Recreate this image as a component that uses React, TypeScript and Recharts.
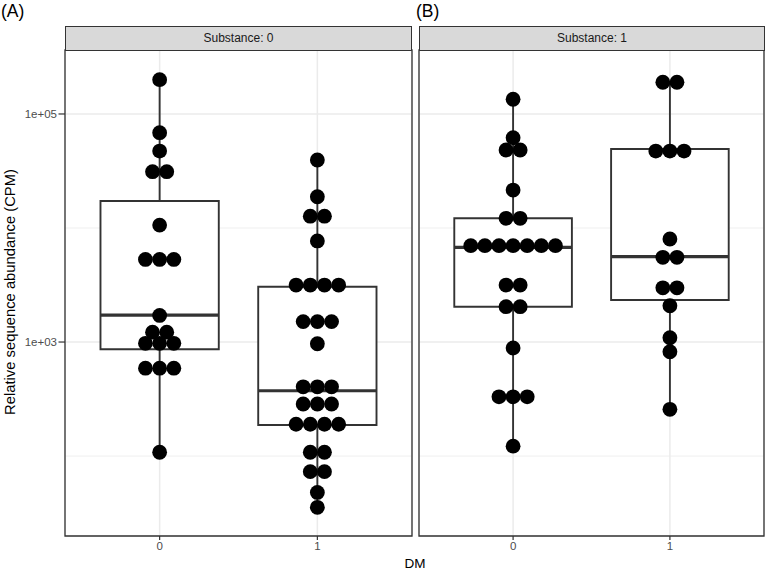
import React from 'react'
import {
  ComposedChart,
  Scatter,
  XAxis,
  YAxis,
  CartesianGrid,
  ReferenceArea,
  ReferenceLine,
} from 'recharts'

const dmLevels = [0, 1]
const majorTicks = [1e3, 1e5]
const gridTicks = [1e2, 1e3, 1e4, 1e5]
const yDomain: [number, number] = [19.9, 364000]
const panelTitles = ['Substance: 0', 'Substance: 1']
const panelTags = ['(A)', '(B)']

// dot-plot bins: bin centre (CPM) and number of stacked dots
const s0dm0Bins = [200000, 68500, 47300, 31200, 10600, 5300, 1710, 1220, 975, 590, 108]
const s0dm0Counts = [1, 1, 1, 2, 1, 3, 1, 2, 3, 3, 1]
const s0dm1Bins = [39500, 18800, 12700, 7700, 3160, 1510, 966, 405, 286, 190, 108, 73, 48, 35.5]
const s0dm1Counts = [1, 1, 2, 1, 4, 3, 1, 3, 3, 4, 2, 2, 1, 1]
const s1dm0Bins = [134600, 61900, 48300, 21500, 12160, 7000, 3160, 2040, 886, 331, 122]
const s1dm0Counts = [1, 1, 2, 1, 2, 7, 2, 2, 1, 3, 1]
const s1dm1Bins = [189800, 47300, 8010, 5530, 2990, 2080, 1090, 822, 257]
const s1dm1Counts = [2, 3, 1, 2, 2, 1, 1, 1, 1]

// boxplot stats: lower whisker, Q1, median, Q3, upper whisker
const s0dm0Box = [108, 863, 1725, 17250, 200000]
const s0dm1Box = [35.5, 187, 374, 3055, 39500]
const s1dm0Box = [122, 2040, 6770, 12160, 134600]
const s1dm1Box = [257, 2334, 5600, 49300, 189800]

const FONT = '"Liberation Sans", Arial, Helvetica, sans-serif'
const DOT_STEP = 0.09 // horizontal spacing of stacked dots, in x units
const BOX_HALF = 0.375

type Group = { dm: number; bins: number[]; counts: number[]; box: number[] }

function stackDots(g: Group) {
  const pts: { x: number; y: number }[] = []
  g.bins.forEach((v, i) => {
    const n = g.counts[i]
    for (let k = 0; k < n; k++) {
      pts.push({ x: g.dm + (k - (n - 1) / 2) * DOT_STEP, y: v })
    }
  })
  return pts
}

const fmtExp = (v: number) => {
  const e = Math.round(Math.log10(v))
  return `1e+${String(e).padStart(2, '0')}`
}

function YTick(props: any) {
  const { x, y, payload } = props
  if (!majorTicks.includes(payload.value)) return <g />
  return (
    <g>
      <line x1={x + 1.5} x2={x + 8} y1={y} y2={y} stroke="#333" strokeWidth={1.2} />
      <text x={x} y={y} dy="0.35em" textAnchor="end" fill="#4d4d4d" fontSize={11.5}>
        {fmtExp(payload.value)}
      </text>
    </g>
  )
}

const gridLine = (p: any) => {
  const v = gridTicks[p.index]
  const major = majorTicks.includes(v)
  return (
    <line
      key={`h-${p.index}`}
      x1={p.x1}
      y1={p.y1}
      x2={p.x2}
      y2={p.y2}
      stroke="#ebebeb"
      strokeWidth={major ? 1.5 : 0.8}
    />
  )
}

const dot = (p: any) => <circle cx={p.cx} cy={p.cy} r={7.4} fill="#000" />

interface PanelProps {
  left: number
  width: number
  mLeft: number
  mRight: number
  showY: boolean
  groups: Group[]
}

function Panel({ left, width, mLeft, mRight, showY, groups }: PanelProps) {
  return (
    <div style={{ position: 'absolute', left, top: 0 }}>
      <ComposedChart
        width={width}
        height={570}
        margin={{ top: 50, right: mRight, bottom: 14, left: mLeft }}
      >
        <CartesianGrid stroke="#ebebeb" strokeWidth={1.5} horizontal={gridLine} />
        <XAxis
          dataKey="x"
          type="number"
          domain={[-0.6, 1.6]}
          allowDataOverflow
          ticks={dmLevels}
          interval={0}
          axisLine={false}
          tickLine={{ stroke: '#333', strokeWidth: 1.2 }}
          tickSize={4}
          tickMargin={2}
          tick={{ fill: '#4d4d4d', fontSize: 11.5 }}
          height={20}
        />
        <YAxis
          dataKey="y"
          type="number"
          scale="log"
          domain={yDomain}
          allowDataOverflow
          ticks={gridTicks}
          interval={0}
          axisLine={false}
          tickLine={false}
          tickSize={5}
          tickMargin={3}
          tick={<YTick />}
          width={showY ? 65 : 0}
          hide={!showY}
        />
        {groups.map((g) => (
          <ReferenceLine
            key={`wu-${g.dm}`}
            segment={[{ x: g.dm, y: g.box[3] }, { x: g.dm, y: g.box[4] }]}
            stroke="#333"
            strokeWidth={1.9}
          />
        ))}
        {groups.map((g) => (
          <ReferenceLine
            key={`wl-${g.dm}`}
            segment={[{ x: g.dm, y: g.box[0] }, { x: g.dm, y: g.box[1] }]}
            stroke="#333"
            strokeWidth={1.9}
          />
        ))}
        {groups.map((g) => (
          <ReferenceArea
            key={`box-${g.dm}`}
            x1={g.dm - BOX_HALF}
            x2={g.dm + BOX_HALF}
            y1={g.box[1]}
            y2={g.box[3]}
            fill="#fff"
            fillOpacity={1}
            stroke="#333"
            strokeWidth={1.9}
          />
        ))}
        {groups.map((g) => (
          <ReferenceLine
            key={`med-${g.dm}`}
            segment={[
              { x: g.dm - BOX_HALF, y: g.box[2] },
              { x: g.dm + BOX_HALF, y: g.box[2] },
            ]}
            stroke="#333"
            strokeWidth={3.2}
          />
        ))}
        {groups.map((g) => (
          <Scatter
            key={`dots-${g.dm}`}
            data={stackDots(g)}
            shape={dot}
            isAnimationActive={false}
          />
        ))}
        <ReferenceArea
          x1={-0.6}
          x2={1.6}
          y1={yDomain[0]}
          y2={yDomain[1]}
          fill="none"
          fillOpacity={0}
          stroke="#333"
          strokeWidth={1.3}
        />
      </ComposedChart>
    </div>
  )
}

function Strip({ left, width, text }: { left: number; width: number; text: string }) {
  return (
    <div
      style={{
        position: 'absolute',
        left,
        top: 26,
        width: width - 2,
        height: 23,
        background: '#d9d9d9',
        border: '1px solid #333',
        color: '#1a1a1a',
        fontSize: 12,
        lineHeight: '23px',
        textAlign: 'center',
      }}
    >
      {text}
    </div>
  )
}

export default function App() {
  const groupsA: Group[] = [
    { dm: 0, bins: s0dm0Bins, counts: s0dm0Counts, box: s0dm0Box },
    { dm: 1, bins: s0dm1Bins, counts: s0dm1Counts, box: s0dm1Box },
  ]
  const groupsB: Group[] = [
    { dm: 0, bins: s1dm0Bins, counts: s1dm0Counts, box: s1dm0Box },
    { dm: 1, bins: s1dm1Bins, counts: s1dm1Counts, box: s1dm1Box },
  ]
  return (
    <div
      style={{
        position: 'absolute',
        left: 0,
        top: 0,
        width: 766,
        height: 570,
        background: '#fff',
        fontFamily: FONT,
        overflow: 'hidden',
      }}
    >
      <Panel left={0} width={420} mLeft={0} mRight={8} showY groups={groupsA} />
      <Panel left={412} width={354} mLeft={7} mRight={2} showY={false} groups={groupsB} />
      <Strip left={65} width={347} text={panelTitles[0]} />
      <Strip left={419} width={346} text={panelTitles[1]} />
      <svg
        width={766}
        height={570}
        style={{ position: 'absolute', left: 0, top: 0, pointerEvents: 'none' }}
      >
        <text x={1} y={17} fontSize={17.5} fill="#000">
          {panelTags[0]}
        </text>
        <text x={416} y={17} fontSize={17.5} fill="#000">
          {panelTags[1]}
        </text>
        <text x={415} y={568} fontSize={13.5} textAnchor="middle" fill="#000">
          DM
        </text>
        <text
          transform="translate(15,292) rotate(-90)"
          fontSize={14.8}
          textAnchor="middle"
          fill="#000"
        >
          Relative sequence abundance (CPM)
        </text>
      </svg>
    </div>
  )
}
